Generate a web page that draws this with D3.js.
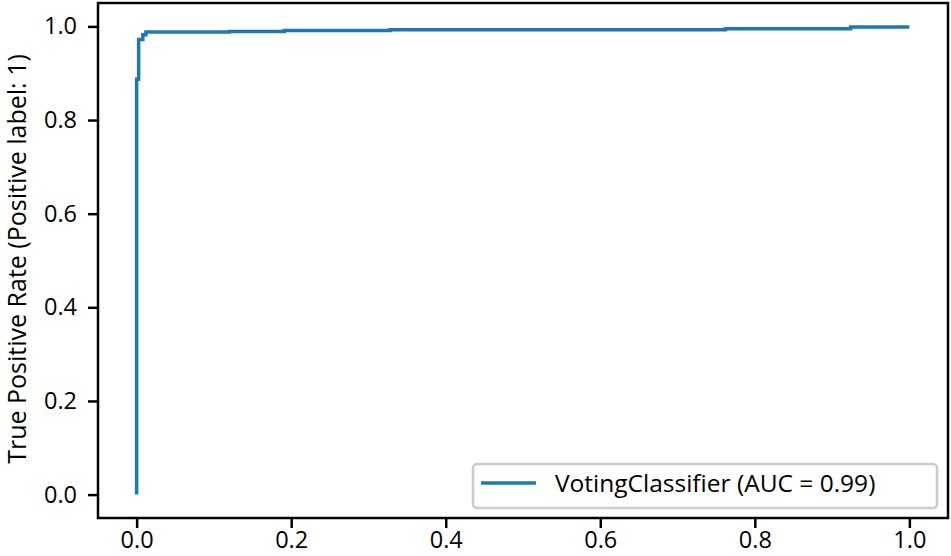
<!DOCTYPE html>
<html>
<head>
<meta charset="utf-8">
<script src="https://cdn.jsdelivr.net/npm/d3@7"></script>
<style>
  body { margin: 0; background: #fff; }
  text { font-family: "Open Sans", sans-serif; fill: #000; }
</style>
</head>
<body>
<div class="canvas"></div>
<script>
// ROC curve points
const fpr = [0, 0, 0.0026, 0.0026, 0.008, 0.008, 0.012, 0.012, 0.12, 0.12, 0.191, 0.191, 0.328, 0.328, 0.762, 0.762, 0.924, 0.924, 1.0];
const tpr = [0, 0.887, 0.887, 0.972, 0.972, 0.982, 0.982, 0.988, 0.988, 0.989, 0.989, 0.991, 0.991, 0.993, 0.993, 0.995, 0.995, 0.999, 0.999];
const xTicks = [0, 0.2, 0.4, 0.6, 0.8, 1.0];
const yTicks = [0, 0.2, 0.4, 0.6, 0.8, 1.0];
const legendLabel = "VotingClassifier (AUC = 0.99)";
const yLabel = "True Positive Rate (Positive label: 1)";

const w = 951;
const h = 556;
const margin = { top: 3, right: 3, bottom: 38, left: 98 };
const graphWidth = w - margin.left - margin.right;
const graphHeight = h - margin.top - margin.bottom;

const svg = d3.select(".canvas").append("svg").attr("width", w).attr("height", h);

const graph = svg.append("g").attr("transform", `translate(${margin.left}, ${margin.top})`);

const xScale = d3.scaleLinear().domain([-0.05, 1.05]).range([0, graphWidth]);
const yScale = d3.scaleLinear().domain([-0.05, 1.05]).range([graphHeight, 0]);

// axes
const xAxis = d3.axisBottom(xScale).tickValues(xTicks).tickFormat(d3.format(".1f")).tickSize(10).tickPadding(3);
const yAxis = d3.axisLeft(yScale).tickValues(yTicks).tickFormat(d3.format(".1f")).tickSize(10).tickPadding(11);

const gx = graph.append("g").attr("transform", `translate(0, ${graphHeight})`).call(xAxis);
const gy = graph.append("g").call(yAxis);
[gx, gy].forEach((g) => {
  g.select(".domain").remove();
  g.selectAll(".tick line").attr("stroke", "#000").attr("stroke-width", 2.5);
  g.selectAll(".tick text").attr("font-size", 23.5).attr("font-family", "Open Sans, sans-serif");
});

// ROC line
const pts = fpr.map((d, i) => [d, tpr[i]]);
const line = d3.line().x((d) => xScale(d[0])).y((d) => yScale(d[1]));
graph
  .append("path")
  .datum(pts)
  .attr("d", line)
  .attr("fill", "none")
  .attr("stroke", "#1f77b4")
  .attr("stroke-width", 3.5);

// frame
graph
  .append("rect")
  .attr("x", 0)
  .attr("y", 0)
  .attr("width", graphWidth)
  .attr("height", graphHeight)
  .attr("fill", "none")
  .attr("stroke", "#000")
  .attr("stroke-width", 2.5);

// y label
svg
  .append("text")
  .attr("transform", `translate(26, ${margin.top + 256}) rotate(-90)`)
  .attr("text-anchor", "middle")
  .attr("font-size", 25)
  .text(yLabel);

// legend
const legend = svg.append("g").attr("transform", "translate(473, 464)");
legend
  .append("rect")
  .attr("width", 464)
  .attr("height", 44)
  .attr("rx", 4)
  .attr("fill", "#fff")
  .attr("fill-opacity", 0.8)
  .attr("stroke", "#cccccc")
  .attr("stroke-width", 2.5);
legend.append("line").attr("x1", 8).attr("x2", 63).attr("y1", 19).attr("y2", 19).attr("stroke", "#1f77b4").attr("stroke-width", 3.5);
legend
  .append("text")
  .attr("x", 82)
  .attr("y", 19)
  .attr("dy", "0.35em")
  .attr("font-size", 24.5)
  .text(legendLabel);
</script>
</body>
</html>
